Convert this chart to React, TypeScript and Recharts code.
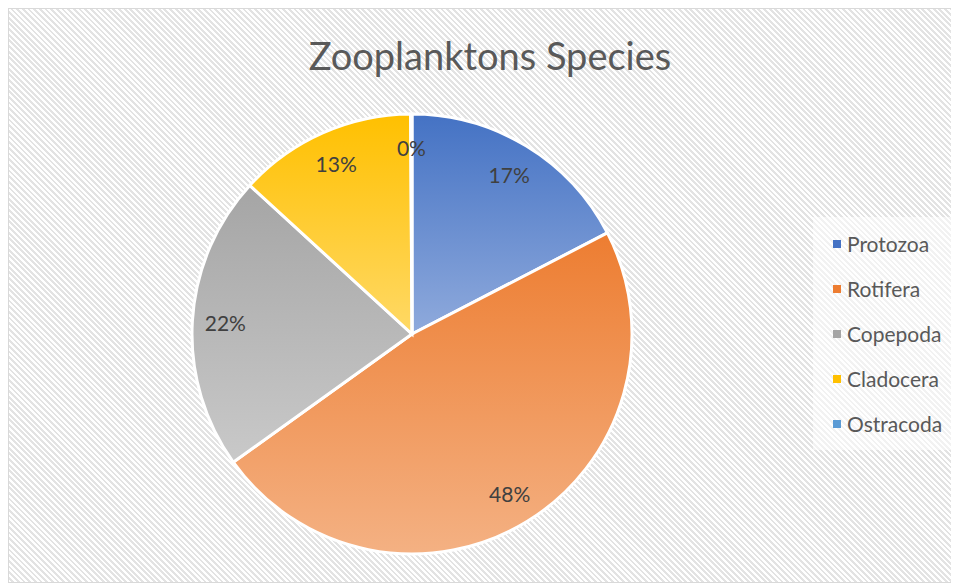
import { PieChart, Pie, Cell, Legend } from "recharts";

const species = ["Protozoa", "Rotifera", "Copepoda", "Cladocera", "Ostracoda"];
const shares = [17.4, 47.7, 21.7, 13.1, 0.1];
const topColors = ["#4472c4", "#ed7d31", "#a5a5a5", "#ffc000", "#5b9bd5"];
const bottomColors = ["#8faadc", "#f4b183", "#c9c9c9", "#ffd966", "#9dc3e6"];

const data = species.map((name, i) => ({ name, value: shares[i] }));

const RAD = Math.PI / 180;

const renderLabel = (p: any) => {
  const r = p.outerRadius * 0.85;
  const x = p.cx + r * Math.cos(-p.midAngle * RAD);
  const y = p.cy + r * Math.sin(-p.midAngle * RAD);
  return (
    <text x={x} y={y} fill="#404040" fontSize={21} fontFamily="Lato" textAnchor="middle" dominantBaseline="central">
      {Math.round(p.percent * 100) + "%"}
    </text>
  );
};

const renderLegend = () => (
  <div style={{ background: "rgba(255,255,255,0.55)", width: 140, padding: "4px 0 4px 20px", boxSizing: "border-box", fontFamily: "Lato", fontSize: 21, color: "#595959" }}>
    {species.map((s, i) => (
      <div key={s} style={{ display: "flex", alignItems: "center", height: 45 }}>
        <span style={{ width: 8, height: 8, background: topColors[i], marginRight: 6, display: "inline-block" }} />
        {s}
      </div>
    ))}
  </div>
);

export default function App() {
  return (
    <div
      style={{
        position: "relative",
        width: 949,
        height: 573,
        border: "1px solid #d9d9d9",
        background: "repeating-linear-gradient(45deg, #ffffff 0px, #ffffff 2px, #e3e3e3 2px, #e3e3e3 4px)",
      }}
    >
      <div
        style={{
          position: "absolute",
          top: 23,
          left: 0,
          width: "100%",
          textAlign: "center",
          fontFamily: "Lato",
          fontSize: 38,
          color: "#595959",
        }}
      >
        <span style={{ marginLeft: 13 }}>Zooplanktons Species</span>
      </div>
      <PieChart width={949} height={573}>
        <defs>
          {species.map((s, i) => (
            <linearGradient key={s} id={"g" + i} x1="0" y1="0" x2="0" y2="1">
              <stop offset="0%" stopColor={topColors[i]} />
              <stop offset="100%" stopColor={bottomColors[i]} />
            </linearGradient>
          ))}
        </defs>
        <Pie
          data={data}
          dataKey="value"
          nameKey="name"
          cx={398}
          cy={320}
          outerRadius={220}
          startAngle={90}
          endAngle={-270}
          stroke="#ffffff"
          strokeWidth={3}
          label={renderLabel}
          labelLine={false}
          isAnimationActive={false}
        >
          {data.map((d, i) => (
            <Cell key={d.name} fill={`url(#g${i})`} />
          ))}
        </Pie>
        <Legend
          layout="vertical"
          align="right"
          verticalAlign="middle"
          content={renderLegend}
          wrapperStyle={{ left: 804, top: 208, right: "auto", bottom: "auto", width: 140 }}
        />
      </PieChart>
    </div>
  );
}
